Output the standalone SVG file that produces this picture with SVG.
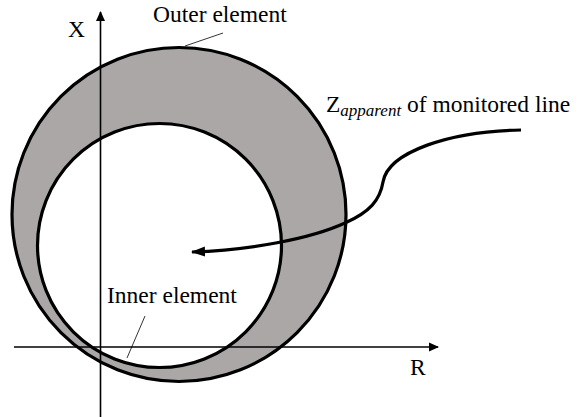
<svg xmlns="http://www.w3.org/2000/svg" width="581" height="417" viewBox="0 0 581 417">
<style>
text{font-family:"Liberation Serif","Times New Roman",serif;fill:#000}
.lbl{font-size:23.5px}
.ring{stroke:#000;stroke-width:3.2}
.axis{stroke:#000;stroke-width:1.6;fill:none}
.lead{stroke:#000;stroke-width:0.8;fill:none}
</style>
<defs>
<marker id="ah" markerWidth="10" markerHeight="10" refX="9" refY="5" orient="auto" markerUnits="userSpaceOnUse">
<path d="M0,0.5 L10,5 L0,9.5 Z" fill="#000"/>
</marker>
<marker id="ah2" markerWidth="14" markerHeight="12" refX="13" refY="6" orient="auto" markerUnits="userSpaceOnUse">
<path d="M0,1 L14,6 L0,11 Z" fill="#000"/>
</marker>
</defs>
<g id="outer-element">
<circle class="ring" cx="179" cy="214.5" r="167" fill="#aba7a7"/>
</g>
<g id="inner-element">
<circle class="ring" cx="159.5" cy="245.5" r="122" fill="#fff"/>
</g>
<g id="axes">
<line class="axis" x1="100.5" y1="417" x2="100.5" y2="12" marker-end="url(#ah)"/>
<line class="axis" x1="14" y1="347" x2="438" y2="347" marker-end="url(#ah)"/>
<text class="lbl" x="68" y="37">X</text>
<text class="lbl" x="410" y="375">R</text>
</g>
<g id="connectors">
<path d="M521,130 C450,131 388,152 383,182 C380,200 370,212 345,223 C310,239 250,250 192,252" fill="none" stroke="#000" stroke-width="3.2" marker-end="url(#ah2)"/>
<line class="lead" x1="185" y1="46" x2="223" y2="33"/>
<line class="lead" x1="145" y1="316" x2="127" y2="358"/>
</g>
<g id="labels">
<text class="lbl" x="153" y="22">Outer element</text>
<text class="lbl" x="107" y="303">Inner element</text>
<text class="lbl" x="326" y="112">Z<tspan font-style="italic" font-size="17" dy="4">apparent</tspan><tspan dy="-4"> of monitored line</tspan></text>
</g>
</svg>
